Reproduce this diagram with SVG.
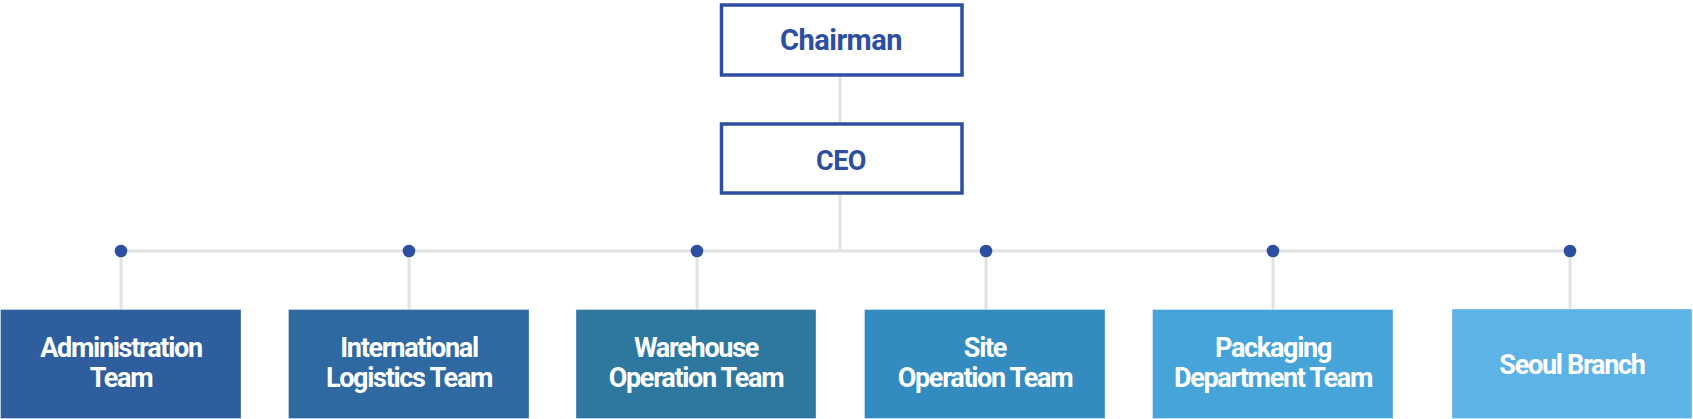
<svg xmlns="http://www.w3.org/2000/svg" width="1693" height="419" viewBox="0 0 1693 419">
<style>
.line{stroke:#e2e2e4;stroke-width:3;fill:none}
.dot{fill:#2d4fa1}
.top rect{fill:#ffffff;stroke:#2d4fa1;stroke-width:3.5}
.top text{fill:#2d4fa1;font-family:Roboto,"Liberation Sans",sans-serif;font-weight:700;text-anchor:middle;letter-spacing:-0.5px}
.team rect{stroke-width:1;stroke-opacity:0.35;stroke:#ffffff}
.team text{fill:#ffffff;font-family:Roboto,"Liberation Sans",sans-serif;font-weight:700;font-size:27px;text-anchor:middle;letter-spacing:-1.3px}
</style>
<rect width="1693" height="419" fill="#ffffff"/>
<g id="connectors">
<line class="line" x1="840" y1="76" x2="840" y2="251"/>
<line class="line" x1="121" y1="251" x2="1570" y2="251"/>
<line class="line" x1="121" y1="251" x2="121" y2="309"/>
<line class="line" x1="409" y1="251" x2="409" y2="309"/>
<line class="line" x1="697" y1="251" x2="697" y2="309"/>
<line class="line" x1="986" y1="251" x2="986" y2="309"/>
<line class="line" x1="1273" y1="251" x2="1273" y2="309"/>
<line class="line" x1="1570" y1="251" x2="1570" y2="309"/>
<circle class="dot" cx="121" cy="251" r="6.3"/>
<circle class="dot" cx="409" cy="251" r="6.3"/>
<circle class="dot" cx="697" cy="251" r="6.3"/>
<circle class="dot" cx="986" cy="251" r="6.3"/>
<circle class="dot" cx="1273" cy="251" r="6.3"/>
<circle class="dot" cx="1570" cy="251" r="6.3"/>
</g>
<g id="chairman" class="top">
<rect x="721.5" y="5" width="240.5" height="70"/>
<text x="841" y="49.5" font-size="29">Chairman</text>
</g>
<g id="ceo" class="top">
<rect x="721.5" y="124" width="240.5" height="69"/>
<text x="841" y="169.5" font-size="27">CEO</text>
</g>
<g id="administration" class="team">
<rect x="0.5" y="309.5" width="240.5" height="109" fill="#2e5e9e"/>
<text x="121" y="357">Administration</text>
<text x="121" y="387">Team</text>
</g>
<g id="international" class="team">
<rect x="288.5" y="309.5" width="240.5" height="109" fill="#2e69a1"/>
<text x="409" y="357">International</text>
<text x="409" y="387">Logistics Team</text>
</g>
<g id="warehouse" class="team">
<rect x="576" y="309.5" width="240" height="109" fill="#2e789f"/>
<text x="696" y="357">Warehouse</text>
<text x="696" y="387">Operation Team</text>
</g>
<g id="site" class="team">
<rect x="864.5" y="309.5" width="240.5" height="109" fill="#338bc0"/>
<text x="985" y="357">Site</text>
<text x="985" y="387">Operation Team</text>
</g>
<g id="packaging" class="team">
<rect x="1152.5" y="309.5" width="240.5" height="109" fill="#47a4d8"/>
<text x="1273" y="357">Packaging</text>
<text x="1273" y="387">Department Team</text>
</g>
<g id="seoul" class="team">
<rect x="1452" y="309" width="240" height="109.5" fill="#5eb3e6"/>
<text x="1572" y="374">Seoul Branch</text>
</g>
</svg>
